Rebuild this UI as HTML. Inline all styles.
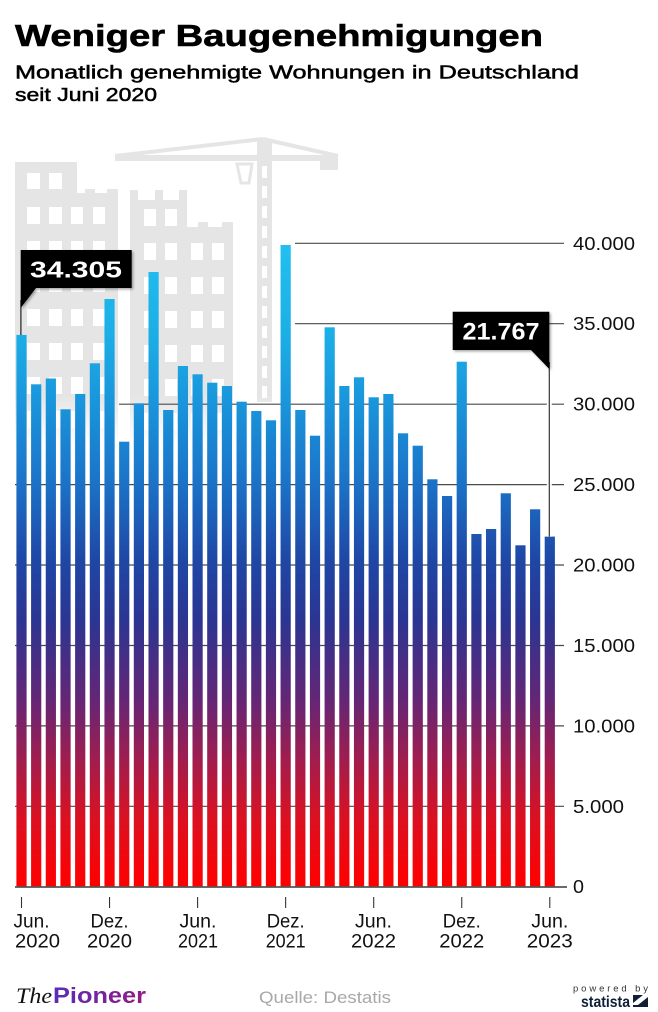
<!DOCTYPE html>
<html>
<head>
<meta charset="utf-8">
<style>
html,body{margin:0;padding:0;background:#fff;}
body{width:658px;height:1012px;overflow:hidden;}
svg{display:block;}
</style>
</head>
<body>
<svg width="658" height="1012" viewBox="0 0 658 1012" xmlns="http://www.w3.org/2000/svg">
<defs>
  <linearGradient id="barg" gradientUnits="userSpaceOnUse" x1="0" y1="243" x2="0" y2="887">
    <stop offset="0" stop-color="#22c0f0"/>
    <stop offset="0.143" stop-color="#1caee6"/>
    <stop offset="0.244" stop-color="#1a96dc"/>
    <stop offset="0.368" stop-color="#1b74c8"/>
    <stop offset="0.492" stop-color="#1f47a6"/>
    <stop offset="0.585" stop-color="#2b3592"/>
    <stop offset="0.710" stop-color="#642676"/>
    <stop offset="0.803" stop-color="#a11d4e"/>
    <stop offset="0.896" stop-color="#dc1020"/>
    <stop offset="1" stop-color="#ff0000"/>
  </linearGradient>
  <linearGradient id="fadeg" gradientUnits="userSpaceOnUse" x1="0" y1="395" x2="0" y2="445">
    <stop offset="0" stop-color="#fff" stop-opacity="1"/>
    <stop offset="1" stop-color="#fff" stop-opacity="0"/>
  </linearGradient>
  <mask id="fade" maskUnits="userSpaceOnUse" x="0" y="100" width="658" height="400">
    <rect x="0" y="100" width="658" height="295" fill="#fff"/>
    <rect x="0" y="395" width="658" height="55" fill="url(#fadeg)"/>
  </mask>
  <linearGradient id="pion" x1="0" y1="0" x2="1" y2="0">
    <stop offset="0" stop-color="#5a2cb8"/>
    <stop offset="1" stop-color="#901c84"/>
  </linearGradient>
  <filter id="sh" x="-10%" y="-10%" width="130%" height="140%">
    <feDropShadow dx="1.5" dy="1.5" stdDeviation="1.2" flood-color="#000" flood-opacity="0.35"/>
  </filter>
</defs>

<!-- Title -->
<text x="15" y="46" font-family="Liberation Sans, sans-serif" font-weight="bold" font-size="31" fill="#000" stroke="#000" stroke-width="0.6" textLength="528" lengthAdjust="spacingAndGlyphs">Weniger Baugenehmigungen</text>
<text x="15" y="78.5" font-family="Liberation Sans, sans-serif" font-size="18.5" fill="#000" stroke="#000" stroke-width="0.5" textLength="564" lengthAdjust="spacingAndGlyphs">Monatlich genehmigte Wohnungen in Deutschland</text>
<text x="15" y="101" font-family="Liberation Sans, sans-serif" font-size="18.5" fill="#000" stroke="#000" stroke-width="0.5" textLength="142" lengthAdjust="spacingAndGlyphs">seit Juni 2020</text>

<!-- Background illustration -->
<g mask="url(#fade)" fill="#e5e5e5">
  <rect x="15" y="162" width="62" height="290"/>
  <rect x="77" y="193" width="41" height="260"/>
  <rect x="85" y="189" width="10" height="5"/>
  <rect x="107" y="189" width="11" height="5"/>
  <rect x="130" y="200" width="57" height="252"/>
  <rect x="130" y="190" width="8" height="10"/>
  <rect x="155" y="190" width="8" height="10"/>
  <rect x="179" y="190" width="8" height="10"/>
  <rect x="187" y="227" width="46" height="225"/>
  <rect x="198" y="222" width="10" height="6"/>
  <rect x="222" y="222" width="11" height="6"/>
  <g fill="#fff">
    <rect x="27" y="173" width="13" height="16"/><rect x="49" y="173" width="13" height="16"/>
    <rect x="27" y="207" width="13" height="17"/><rect x="49" y="207" width="13" height="17"/><rect x="71" y="207" width="12" height="17"/><rect x="93" y="207" width="12" height="17"/>
    <rect x="27" y="241" width="13" height="17"/><rect x="49" y="241" width="13" height="17"/><rect x="71" y="241" width="12" height="17"/><rect x="93" y="241" width="12" height="17"/>
    <rect x="27" y="275" width="13" height="17"/><rect x="49" y="275" width="13" height="17"/><rect x="71" y="275" width="12" height="17"/><rect x="93" y="275" width="12" height="17"/>
    <rect x="27" y="309" width="13" height="17"/><rect x="49" y="309" width="13" height="17"/><rect x="71" y="309" width="12" height="17"/><rect x="93" y="309" width="12" height="17"/>
    <rect x="27" y="343" width="13" height="17"/><rect x="49" y="343" width="13" height="17"/><rect x="71" y="343" width="12" height="17"/><rect x="93" y="343" width="12" height="17"/>
    <rect x="27" y="377" width="13" height="17"/><rect x="49" y="377" width="13" height="17"/><rect x="71" y="377" width="12" height="17"/><rect x="93" y="377" width="12" height="17"/>
    <rect x="27" y="411" width="13" height="17"/><rect x="49" y="411" width="13" height="17"/><rect x="71" y="411" width="12" height="17"/><rect x="93" y="411" width="12" height="17"/>
    <rect x="144" y="209" width="12" height="17"/><rect x="165" y="209" width="12" height="17"/>
    <rect x="144" y="243" width="12" height="17"/><rect x="165" y="243" width="12" height="17"/><rect x="191" y="243" width="12" height="17"/><rect x="212" y="243" width="12" height="17"/>
    <rect x="144" y="277" width="12" height="17"/><rect x="165" y="277" width="12" height="17"/><rect x="191" y="277" width="12" height="17"/><rect x="212" y="277" width="12" height="17"/>
    <rect x="144" y="311" width="12" height="17"/><rect x="165" y="311" width="12" height="17"/><rect x="191" y="311" width="12" height="17"/><rect x="212" y="311" width="12" height="17"/>
    <rect x="144" y="345" width="12" height="17"/><rect x="165" y="345" width="12" height="17"/><rect x="191" y="345" width="12" height="17"/><rect x="212" y="345" width="12" height="17"/>
    <rect x="144" y="379" width="12" height="17"/><rect x="165" y="379" width="12" height="17"/><rect x="191" y="379" width="12" height="17"/><rect x="212" y="379" width="12" height="17"/>
    <rect x="144" y="413" width="12" height="17"/><rect x="165" y="413" width="12" height="17"/><rect x="191" y="413" width="12" height="17"/><rect x="212" y="413" width="12" height="17"/>
  </g>
  <rect x="115" y="155" width="223" height="6"/>
  <line x1="115" y1="156" x2="263" y2="139" stroke="#e5e5e5" stroke-width="4"/>
  <line x1="263" y1="139" x2="338" y2="156" stroke="#e5e5e5" stroke-width="4"/>
  <rect x="320" y="158" width="18" height="12"/>
  <rect x="257" y="140" width="15" height="262"/>
  <polygon points="237,164 252,164 249,183 241,183" fill="none" stroke="#e5e5e5" stroke-width="3"/>
  <g fill="#fff">
    <rect x="262" y="166" width="5" height="12"/><rect x="262" y="186" width="5" height="12"/>
    <rect x="262" y="206" width="5" height="12"/><rect x="262" y="226" width="5" height="12"/>
    <rect x="262" y="246" width="5" height="12"/><rect x="262" y="266" width="5" height="12"/>
    <rect x="262" y="286" width="5" height="12"/><rect x="262" y="306" width="5" height="12"/>
    <rect x="262" y="326" width="5" height="12"/><rect x="262" y="346" width="5" height="12"/>
    <rect x="262" y="366" width="5" height="12"/><rect x="262" y="386" width="5" height="12"/>
  </g>
</g>

<!-- Gridlines -->
<g stroke="#4a4a4a" stroke-width="1.2">
  <line x1="295" y1="243.3" x2="564" y2="243.3"/>
  <line x1="295" y1="323.7" x2="564" y2="323.7"/>
  <line x1="119" y1="404.2" x2="564" y2="404.2"/>
  <line x1="15" y1="484.6" x2="564" y2="484.6"/>
  <line x1="15" y1="565" x2="564" y2="565"/>
  <line x1="15" y1="645.5" x2="564" y2="645.5"/>
  <line x1="15" y1="725.9" x2="564" y2="725.9"/>
  <line x1="15" y1="806.3" x2="564" y2="806.3"/>
</g>

<!-- Y labels -->
<g font-family="Liberation Sans, sans-serif" font-size="18.5" fill="#111">
  <text x="573" y="249.8" textLength="62" lengthAdjust="spacingAndGlyphs">40.000</text>
  <text x="573" y="330.2" textLength="62" lengthAdjust="spacingAndGlyphs">35.000</text>
  <text x="573" y="410.7" textLength="62" lengthAdjust="spacingAndGlyphs">30.000</text>
  <text x="573" y="491.1" textLength="62" lengthAdjust="spacingAndGlyphs">25.000</text>
  <text x="573" y="571.5" textLength="62" lengthAdjust="spacingAndGlyphs">20.000</text>
  <text x="573" y="652" textLength="62" lengthAdjust="spacingAndGlyphs">15.000</text>
  <text x="573" y="732.4" textLength="62" lengthAdjust="spacingAndGlyphs">10.000</text>
  <text x="573" y="812.8" textLength="51" lengthAdjust="spacingAndGlyphs">5.000</text>
  <text x="573" y="893.2" textLength="11" lengthAdjust="spacingAndGlyphs">0</text>
</g>

<!-- Bars -->
<g fill="url(#barg)">
  <rect x="16.4" y="334.9" width="10.2" height="552.1"/>
  <rect x="31.08" y="384.3" width="10.2" height="502.7"/>
  <rect x="45.75" y="378.5" width="10.2" height="508.5"/>
  <rect x="60.43" y="409.3" width="10.2" height="477.7"/>
  <rect x="75.1" y="394" width="10.2" height="493"/>
  <rect x="89.78" y="363.3" width="10.2" height="523.7"/>
  <rect x="104.45" y="299" width="10.2" height="588"/>
  <rect x="119.13" y="441.7" width="10.2" height="445.3"/>
  <rect x="133.8" y="403.3" width="10.2" height="483.7"/>
  <rect x="148.48" y="272" width="10.2" height="615"/>
  <rect x="163.15" y="410" width="10.2" height="477"/>
  <rect x="177.83" y="366" width="10.2" height="521"/>
  <rect x="192.5" y="374.3" width="10.2" height="512.7"/>
  <rect x="207.18" y="382.7" width="10.2" height="504.3"/>
  <rect x="221.85" y="386" width="10.2" height="501"/>
  <rect x="236.53" y="401.7" width="10.2" height="485.3"/>
  <rect x="251.2" y="411" width="10.2" height="476"/>
  <rect x="265.88" y="420.3" width="10.2" height="466.7"/>
  <rect x="280.55" y="245" width="10.2" height="642"/>
  <rect x="295.23" y="410" width="10.2" height="477"/>
  <rect x="309.9" y="435.7" width="10.2" height="451.3"/>
  <rect x="324.58" y="327.3" width="10.2" height="559.7"/>
  <rect x="339.25" y="386" width="10.2" height="501"/>
  <rect x="353.93" y="377.3" width="10.2" height="509.7"/>
  <rect x="368.6" y="397.3" width="10.2" height="489.7"/>
  <rect x="383.28" y="394" width="10.2" height="493"/>
  <rect x="397.95" y="433.3" width="10.2" height="453.7"/>
  <rect x="412.63" y="445.7" width="10.2" height="441.3"/>
  <rect x="427.3" y="479.3" width="10.2" height="407.7"/>
  <rect x="441.98" y="496" width="10.2" height="391"/>
  <rect x="456.65" y="361.7" width="10.2" height="525.3"/>
  <rect x="471.33" y="534" width="10.2" height="353"/>
  <rect x="486" y="529" width="10.2" height="358"/>
  <rect x="500.68" y="493.3" width="10.2" height="393.7"/>
  <rect x="515.35" y="545.3" width="10.2" height="341.7"/>
  <rect x="530.03" y="509.3" width="10.2" height="377.7"/>
  <rect x="544.7" y="536.6" width="10.2" height="350.4"/>
</g>

<!-- Baseline -->
<line x1="15" y1="887" x2="567" y2="887" stroke="#555" stroke-width="1.8"/>

<!-- X ticks -->
<g stroke="#333" stroke-width="1.1">
  <line x1="21.5" y1="897" x2="21.5" y2="908"/>
  <line x1="109.55" y1="897" x2="109.55" y2="908"/>
  <line x1="197.6" y1="897" x2="197.6" y2="908"/>
  <line x1="285.65" y1="897" x2="285.65" y2="908"/>
  <line x1="373.7" y1="897" x2="373.7" y2="908"/>
  <line x1="461.75" y1="897" x2="461.75" y2="908"/>
  <line x1="549.8" y1="897" x2="549.8" y2="908"/>
</g>

<!-- X labels -->
<g font-family="Liberation Sans, sans-serif" font-size="19" fill="#111">
  <text x="13.5" y="927.5" textLength="36" lengthAdjust="spacingAndGlyphs">Jun.</text>
  <text x="15" y="947.5" textLength="45" lengthAdjust="spacingAndGlyphs">2020</text>
  <g text-anchor="middle">
    <text x="109.5" y="927.5" textLength="38" lengthAdjust="spacingAndGlyphs">Dez.</text>
    <text x="109.5" y="947.5" textLength="45" lengthAdjust="spacingAndGlyphs">2020</text>
    <text x="198" y="927.5" textLength="37" lengthAdjust="spacingAndGlyphs">Jun.</text>
    <text x="198" y="947.5" textLength="40" lengthAdjust="spacingAndGlyphs">2021</text>
    <text x="285.7" y="927.5" textLength="38" lengthAdjust="spacingAndGlyphs">Dez.</text>
    <text x="285.7" y="947.5" textLength="40" lengthAdjust="spacingAndGlyphs">2021</text>
    <text x="373.5" y="927.5" textLength="37" lengthAdjust="spacingAndGlyphs">Jun.</text>
    <text x="373.5" y="947.5" textLength="45" lengthAdjust="spacingAndGlyphs">2022</text>
    <text x="461.8" y="927.5" textLength="38" lengthAdjust="spacingAndGlyphs">Dez.</text>
    <text x="461.8" y="947.5" textLength="45" lengthAdjust="spacingAndGlyphs">2022</text>
    <text x="549.8" y="927.5" textLength="37" lengthAdjust="spacingAndGlyphs">Jun.</text>
    <text x="549.8" y="947.5" textLength="46" lengthAdjust="spacingAndGlyphs">2023</text>
  </g>
</g>

<!-- Callout 1 -->
<line x1="20.9" y1="300" x2="20.9" y2="335" stroke="#222" stroke-width="1.2"/>
<g filter="url(#sh)">
  <polygon points="20.7,250 131.7,250 131.7,288 36,288 20.7,308" fill="#000"/>
</g>
<text x="76" y="277.5" text-anchor="middle" font-family="Liberation Sans, sans-serif" font-weight="bold" font-size="23.5" fill="#fff" textLength="92" lengthAdjust="spacingAndGlyphs">34.305</text>

<!-- Callout 2 -->
<line x1="549.3" y1="362" x2="549.3" y2="536.6" stroke="#fff" stroke-width="5"/>
<line x1="549.3" y1="362" x2="549.3" y2="536.6" stroke="#333" stroke-width="1.2"/>
<g filter="url(#sh)">
  <polygon points="452.7,311.7 549.3,311.7 549.3,369 531,350 452.7,350" fill="#000"/>
</g>
<text x="501" y="339.5" text-anchor="middle" font-family="Liberation Sans, sans-serif" font-weight="bold" font-size="24" fill="#fff" textLength="77" lengthAdjust="spacingAndGlyphs">21.767</text>

<!-- Footer -->
<text x="16" y="1003" font-family="Liberation Serif, serif" font-style="italic" font-size="22.5" fill="#111" textLength="36" lengthAdjust="spacingAndGlyphs">The</text>
<text x="53" y="1003" font-family="Liberation Sans, sans-serif" font-weight="bold" font-size="22" fill="url(#pion)" textLength="93" lengthAdjust="spacingAndGlyphs">Pioneer</text>
<text x="259" y="1003" font-family="Liberation Sans, sans-serif" font-size="17" fill="#a8a8a8" textLength="132" lengthAdjust="spacingAndGlyphs">Quelle: Destatis</text>
<text x="573" y="991.5" font-family="Liberation Sans, sans-serif" font-size="9.5" fill="#333" textLength="75" lengthAdjust="spacing">powered by</text>
<text x="581" y="1007" font-family="Liberation Sans, sans-serif" font-weight="bold" font-size="16" fill="#0f1f35" textLength="49" lengthAdjust="spacingAndGlyphs">statista</text>
<rect x="633" y="995" width="15" height="12" fill="#0f1f35"/>
<polygon points="633,1003 643,995 648,995 648,997 638,1005 633,1005" fill="#fff"/>
</svg>
</body>
</html>
